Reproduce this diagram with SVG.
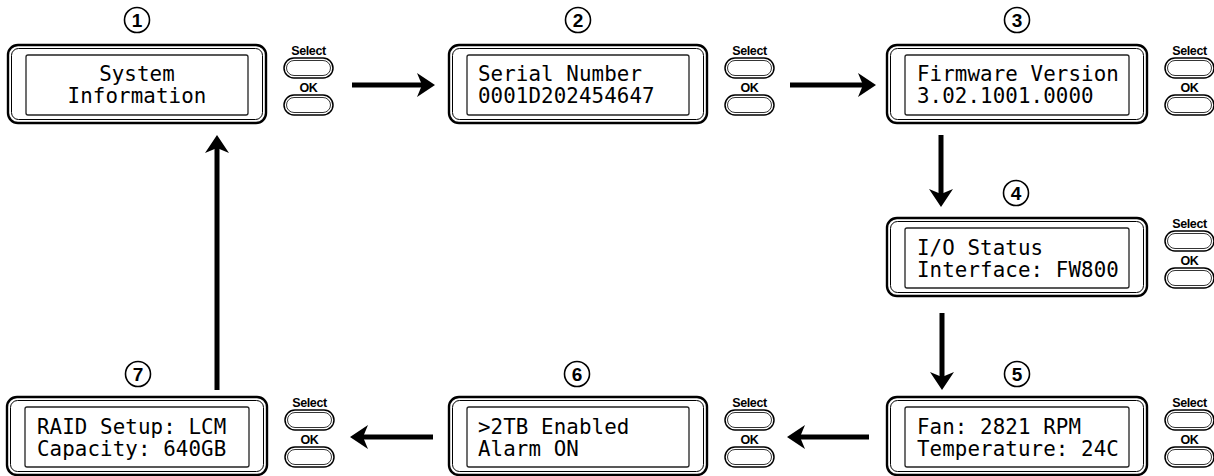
<svg xmlns="http://www.w3.org/2000/svg" xmlns:xlink="http://www.w3.org/1999/xlink" width="1214" height="476" viewBox="0 0 1214 476">
<style>
.outer{fill:#fff;stroke:#000;stroke-width:2.4}
.outer2{fill:none;stroke:#000;stroke-width:1}
.lcd{fill:#fff;stroke:#222;stroke-width:1.3}
.t{font-family:"DejaVu Sans Mono","Liberation Mono",monospace;font-size:20.8px;letter-spacing:0.1px;fill:#000}
.btnl{font-family:"Liberation Sans",Arial,sans-serif;font-weight:bold;font-size:12.5px;fill:#000;text-anchor:middle;letter-spacing:-0.4px}
.btn{fill:#fff;stroke:#000;stroke-width:1.5}
.btn2{fill:none;stroke:#000;stroke-width:0.8}
.num{fill:#fff;stroke:#000;stroke-width:1.6}
.numt{font-family:"Liberation Sans",Arial,sans-serif;font-weight:bold;font-size:19px;fill:#000;text-anchor:middle}
.arr{stroke:#000;stroke-width:5;fill:none}
</style>
<defs>
<marker id="head" markerUnits="userSpaceOnUse" viewBox="-9 -13 22 26" refX="0" refY="0" markerWidth="22" markerHeight="26" orient="auto">
<path d="M11,0 L-7,-12 L-2,0 L-7,12 Z" fill="#000"/>
</marker>
<g id="buttons">
<text class="btnl" x="24.5" y="10">Select</text>
<rect class="btn" x="0" y="13" width="49" height="20" rx="10"/>
<rect class="btn2" x="2.5" y="15.5" width="44" height="15" rx="7.5"/>
<text class="btnl" x="24.5" y="47">OK</text>
<rect class="btn" x="0" y="50" width="49" height="20" rx="10"/>
<rect class="btn2" x="2.5" y="52.5" width="44" height="15" rx="7.5"/>
</g>
</defs>

<g id="node1">
<rect class="outer" x="8" y="45" width="258" height="78" rx="10"/>
<rect class="outer2" x="11.5" y="48.5" width="251" height="71" rx="7"/>
<rect class="lcd" x="26" y="55" width="222" height="60" rx="2"/>
<text class="t" x="137" y="81" text-anchor="middle">System</text>
<text class="t" x="137" y="103" text-anchor="middle">Information</text>
<use xlink:href="#buttons" href="#buttons" x="284" y="45"/>
<circle class="num" cx="137" cy="20" r="12.5"/>
<text class="numt" x="137" y="27">1</text>
</g>

<g id="node2">
<rect class="outer" x="449" y="45" width="258" height="78" rx="10"/>
<rect class="outer2" x="452.5" y="48.5" width="251" height="71" rx="7"/>
<rect class="lcd" x="467" y="55" width="222" height="60" rx="2"/>
<text class="t" x="478" y="81">Serial Number</text>
<text class="t" x="478" y="103">0001D202454647</text>
<use xlink:href="#buttons" href="#buttons" x="725" y="45"/>
<circle class="num" cx="578" cy="20" r="12.5"/>
<text class="numt" x="578" y="27">2</text>
</g>

<g id="node3">
<rect class="outer" x="887" y="45" width="260" height="78" rx="10"/>
<rect class="outer2" x="890.5" y="48.5" width="253" height="71" rx="7"/>
<rect class="lcd" x="905" y="55" width="224" height="60" rx="2"/>
<text class="t" x="917" y="81">Firmware Version</text>
<text class="t" x="917" y="103">3.02.1001.0000</text>
<use xlink:href="#buttons" href="#buttons" x="1165" y="45"/>
<circle class="num" cx="1017" cy="20" r="12.5"/>
<text class="numt" x="1017" y="27">3</text>
</g>

<g id="node4">
<rect class="outer" x="887" y="218" width="260" height="78" rx="10"/>
<rect class="outer2" x="890.5" y="221.5" width="253" height="71" rx="7"/>
<rect class="lcd" x="905" y="228" width="224" height="60" rx="2"/>
<text class="t" x="917" y="254.5">I/O Status</text>
<text class="t" x="917" y="276.5">Interface: FW800</text>
<use xlink:href="#buttons" href="#buttons" x="1165" y="218"/>
<circle class="num" cx="1016" cy="193" r="12.5"/>
<text class="numt" x="1016" y="200">4</text>
</g>

<g id="node5">
<rect class="outer" x="887" y="397" width="260" height="78" rx="10"/>
<rect class="outer2" x="890.5" y="400.5" width="253" height="71" rx="7"/>
<rect class="lcd" x="905" y="407" width="224" height="60" rx="2"/>
<text class="t" x="917" y="434">Fan: 2821 RPM</text>
<text class="t" x="917" y="456">Temperature: 24C</text>
<use xlink:href="#buttons" href="#buttons" x="1165" y="397"/>
<circle class="num" cx="1017" cy="374" r="12.5"/>
<text class="numt" x="1017" y="381">5</text>
</g>

<g id="node6">
<rect class="outer" x="449" y="397" width="258" height="78" rx="10"/>
<rect class="outer2" x="452.5" y="400.5" width="251" height="71" rx="7"/>
<rect class="lcd" x="467" y="407" width="222" height="60" rx="2"/>
<text class="t" x="478" y="434">&gt;2TB Enabled</text>
<text class="t" x="478" y="456">Alarm ON</text>
<use xlink:href="#buttons" href="#buttons" x="725" y="397"/>
<circle class="num" cx="577" cy="374" r="12.5"/>
<text class="numt" x="577" y="381">6</text>
</g>

<g id="node7">
<rect class="outer" x="7" y="397" width="260" height="78" rx="10"/>
<rect class="outer2" x="10.5" y="400.5" width="253" height="71" rx="7"/>
<rect class="lcd" x="25" y="407" width="224" height="60" rx="2"/>
<text class="t" x="37" y="434">RAID Setup: LCM</text>
<text class="t" x="37" y="456">Capacity: 640GB</text>
<use xlink:href="#buttons" href="#buttons" x="285" y="397"/>
<circle class="num" cx="138" cy="374" r="12.5"/>
<text class="numt" x="138" y="381">7</text>
</g>

<g id="connectors">
<line class="arr" x1="352" y1="85" x2="424" y2="85" marker-end="url(#head)"/>
<line class="arr" x1="790" y1="85" x2="865" y2="85" marker-end="url(#head)"/>
<line class="arr" x1="941" y1="135" x2="941" y2="196" marker-end="url(#head)"/>
<line class="arr" x1="942" y1="313" x2="942" y2="379" marker-end="url(#head)"/>
<line class="arr" x1="869" y1="437" x2="798" y2="437" marker-end="url(#head)"/>
<line class="arr" x1="433" y1="437" x2="361" y2="437" marker-end="url(#head)"/>
<line class="arr" x1="217" y1="390" x2="217" y2="146" marker-end="url(#head)"/>
</g>
</svg>
